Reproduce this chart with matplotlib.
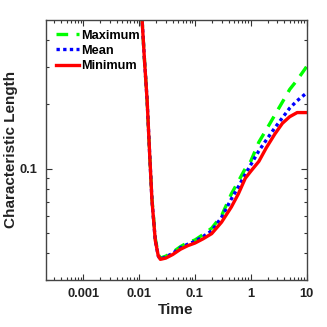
import matplotlib
matplotlib.use("Agg")
import matplotlib.pyplot as plt
from matplotlib.ticker import LogLocator, FixedLocator, NullFormatter, FixedFormatter

plt.rcParams['font.family'] = ['Liberation Sans', 'DejaVu Sans']

time = [0.0112, 0.0125, 0.0139, 0.0155, 0.017, 0.0195, 0.022, 0.024, 0.03, 0.04,
        0.055, 0.075, 0.1, 0.14, 0.2, 0.3, 0.45, 0.6, 0.8, 1.0, 1.4, 1.9, 2.7,
        3.7, 5.0, 6.8, 10]
maximum = [0.52, 0.32, 0.21, 0.115, 0.072, 0.047, 0.0395, 0.038, 0.0388, 0.0405,
           0.043, 0.045, 0.0462, 0.049, 0.0525, 0.060, 0.076, 0.087, 0.100, 0.108,
           0.133, 0.152, 0.178, 0.205, 0.235, 0.26, 0.30]
mean = [0.52, 0.32, 0.21, 0.115, 0.071, 0.046, 0.039, 0.0375, 0.0385, 0.040,
        0.0425, 0.0442, 0.0455, 0.048, 0.051, 0.059, 0.072, 0.082, 0.094, 0.104,
        0.121, 0.136, 0.155, 0.173, 0.192, 0.208, 0.226]
minimum = [0.52, 0.32, 0.21, 0.115, 0.071, 0.046, 0.039, 0.0375, 0.038, 0.0395,
           0.0418, 0.0435, 0.0447, 0.0468, 0.0495, 0.056, 0.066, 0.076, 0.090, 0.097,
           0.108, 0.125, 0.145, 0.163, 0.175, 0.183, 0.183]

fig = plt.figure(figsize=(3.27, 3.27), dpi=100)
ax = fig.add_axes([45.5/327, 1 - 280/327, (306.5-45.5)/327, (280-19.5)/327])

ax.plot(time, maximum, color='#00ff00', lw=2.4, ls=(0, (3.5, 2.5)), label='Maximum')
ax.plot(time, mean, color='#0000ff', lw=2.4, ls=(0, (1, 1)), label='Mean')
ax.plot(time, minimum, color='#ff0000', lw=2.4, ls='-', label='Minimum')

ax.set_xscale('log')
ax.set_yscale('log')
ax.set_xlim(2.1e-4, 10)
ax.set_ylim(0.03, 0.5)

ax.xaxis.set_major_locator(FixedLocator([0.001, 0.01, 0.1, 1, 10]))
ax.xaxis.set_major_formatter(FixedFormatter(['0.001', '0.01', '0.1', '1', '10']))
ax.xaxis.set_minor_locator(LogLocator(base=10, subs=range(2, 10)))
ax.xaxis.set_minor_formatter(NullFormatter())
ax.yaxis.set_major_locator(FixedLocator([0.1]))
ax.yaxis.set_major_formatter(FixedFormatter(['0.1']))
ax.yaxis.set_minor_locator(FixedLocator([0.03, 0.04, 0.05, 0.06, 0.07, 0.08, 0.09, 0.2, 0.3, 0.4]))
ax.yaxis.set_minor_formatter(NullFormatter())

ax.tick_params(which='both', direction='in', top=True, right=True, width=0.8, color='#333333')
ax.tick_params(which='major', length=4, labelsize=9.3, pad=6)
ax.tick_params(which='minor', length=2.5)
for lab in ax.get_xticklabels() + ax.get_yticklabels():
    lab.set_fontweight('bold')
    lab.set_color('#222222')
for s in ax.spines.values():
    s.set_color('#444444')
    s.set_linewidth(1.0)

ax.set_xlabel('Time', fontsize=11, fontweight='bold', color='#222222', labelpad=2)
ax.set_ylabel('Characteristic Length', fontsize=11, fontweight='bold', color='#222222', labelpad=1)

leg = ax.legend(loc='upper left', frameon=False, prop={'weight': 'bold', 'size': 9.2},
                handlelength=1.8, handletextpad=0.15, labelspacing=0.25,
                borderaxespad=0.4)

fig.savefig('out.png', dpi=100)
